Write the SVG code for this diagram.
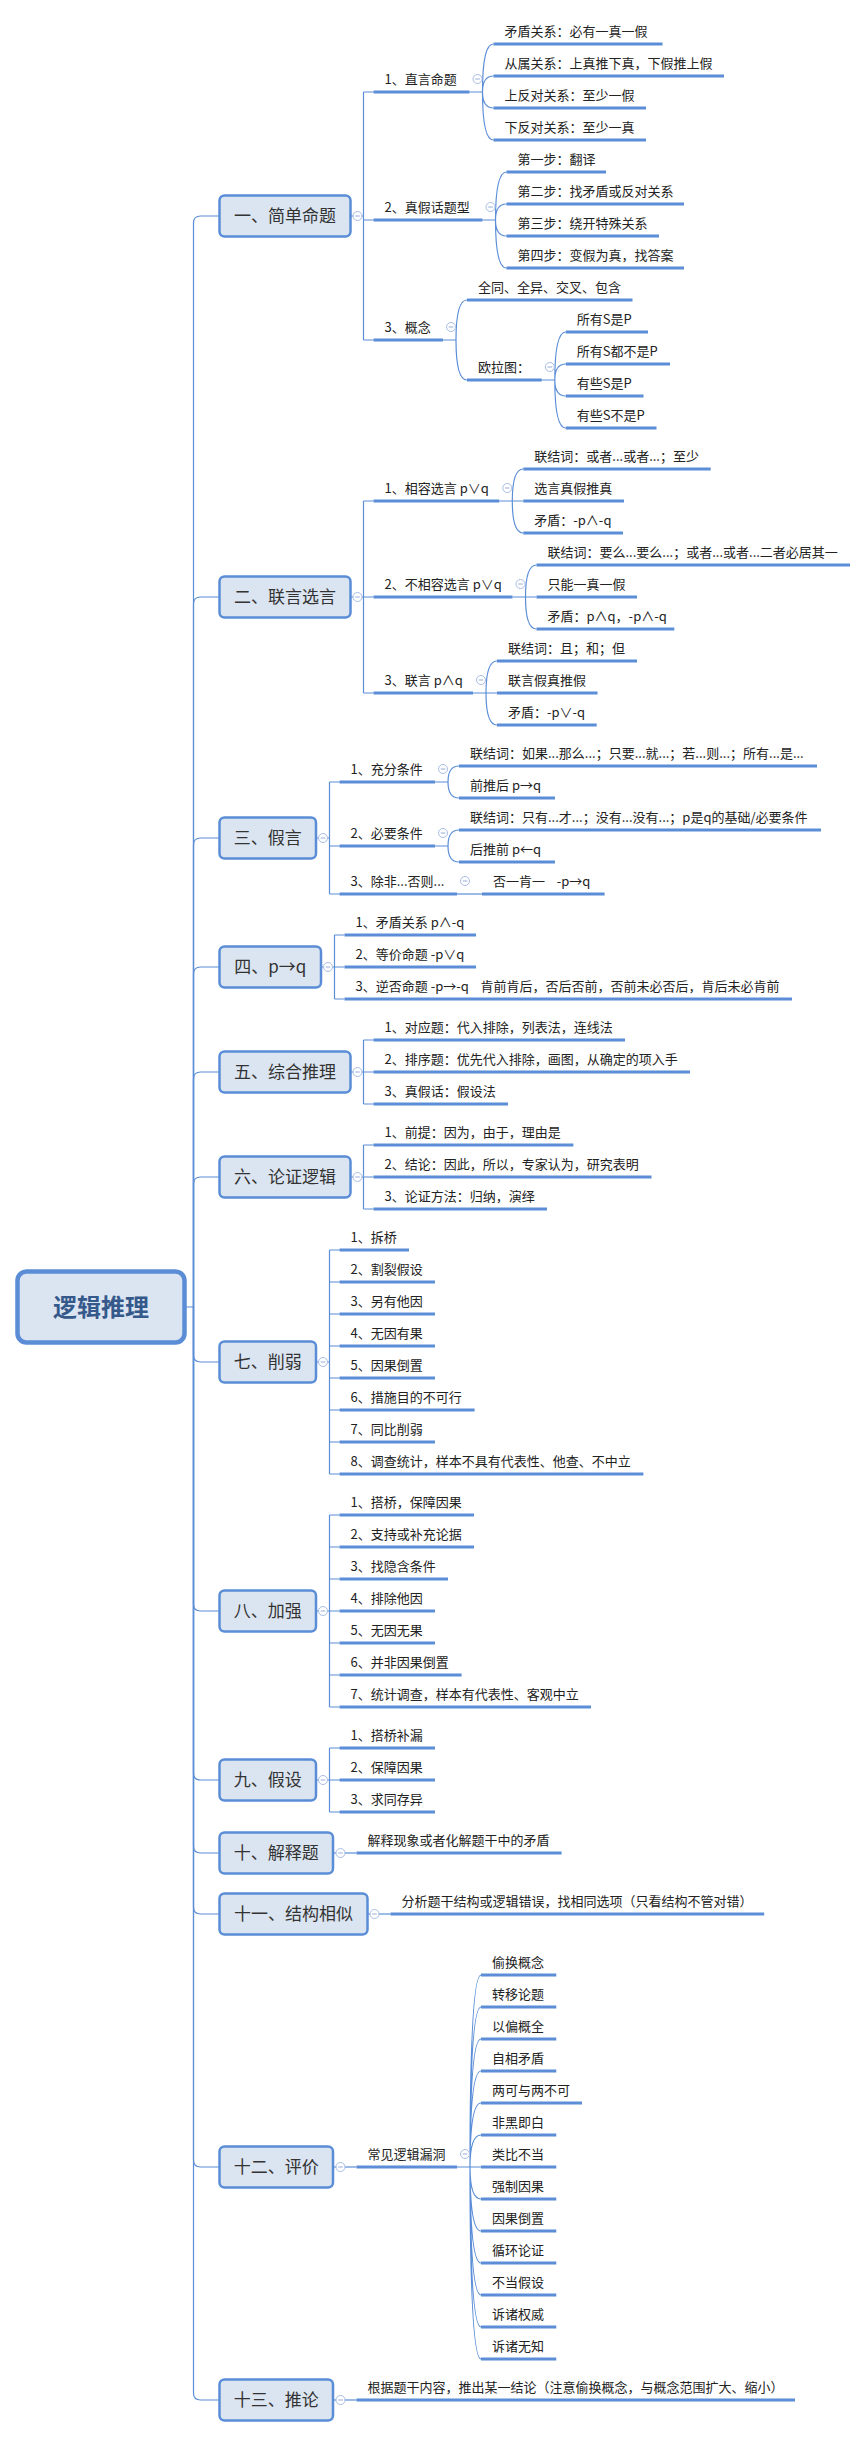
<svg xmlns="http://www.w3.org/2000/svg" xmlns:xlink="http://www.w3.org/1999/xlink" width="868" height="2437" viewBox="0 0 868 2437">
<style>
.b{fill:#dbe5f1;stroke:#5a8dd6;stroke-width:2.5}
.r{fill:#dbe5f1;stroke:#5a8dd6;stroke-width:4.5}
.rt{font-family:"Noto Sans CJK SC",sans-serif;font-size:24px;font-weight:bold;fill:#36598c;text-anchor:middle}
.h{font-family:"Noto Sans CJK SC",sans-serif;font-size:17px;fill:#333;text-anchor:middle}
.t{font-family:"Noto Sans CJK SC",sans-serif;font-size:13px;fill:#222;white-space:pre}
.u{stroke:#5b8ed7;stroke-width:3;fill:none}
.k{stroke:#5b8ed7;stroke-width:1.2;fill:none}
</style>
<defs>
<g id="cm"><circle r="4.5" fill="#fff" stroke="#a8bde4" stroke-width="1"/><path d="M-2.3 0H2.3" stroke="#98aedb" stroke-width="1"/></g>
</defs>
<rect width="868" height="2437" fill="#fff"/>
<g id="connectors">
<!-- trunk -->
<path class="k" d="M185 1307H193.5V223Q193.5 216 200.5 216H219.5"/>
<path class="k" d="M193.5 1307V604Q193.5 597 200.5 597H219.5"/>
<path class="k" d="M193.5 1307V845Q193.5 838 200.5 838H219.5"/>
<path class="k" d="M193.5 1307V974Q193.5 967 200.5 967H219.5"/>
<path class="k" d="M193.5 1307V1079Q193.5 1072 200.5 1072H219.5"/>
<path class="k" d="M193.5 1307V1184Q193.5 1177 200.5 1177H219.5"/>
<path class="k" d="M193.5 1307V1355Q193.5 1362 200.5 1362H219.5"/>
<path class="k" d="M193.5 1307V1604Q193.5 1611 200.5 1611H219.5"/>
<path class="k" d="M193.5 1307V1773Q193.5 1780 200.5 1780H219.5"/>
<path class="k" d="M193.5 1307V1846Q193.5 1853 200.5 1853H219.5"/>
<path class="k" d="M193.5 1307V1907Q193.5 1914 200.5 1914H219.5"/>
<path class="k" d="M193.5 1307V2160Q193.5 2167 200.5 2167H219.5"/>
<path class="k" d="M193.5 1307V2393Q193.5 2400 200.5 2400H219.5"/>
<!-- level 2 elbows -->
<path class="k" d="M350.5 216H363.5M363.5 92V340M363.5 92H373.5M363.5 220H373.5M363.5 340H373.5"/>
<path class="k" d="M350.5 597H363.5M363.5 501V693M363.5 501H373.5M363.5 597H373.5M363.5 693H373.5"/>
<path class="k" d="M316 838H329.5M329.5 782V894M329.5 782H339.5M329.5 846H339.5M329.5 894H339.5"/>
<path class="k" d="M321 967H334.5M334.5 935V999M334.5 935H344.5M334.5 967H344.5M334.5 999H344.5"/>
<path class="k" d="M350.5 1072H363.5M363.5 1040V1104M363.5 1040H373.5M363.5 1072H373.5M363.5 1104H373.5"/>
<path class="k" d="M350.5 1177H363.5M363.5 1145V1209M363.5 1145H373.5M363.5 1177H373.5M363.5 1209H373.5"/>
<path class="k" d="M316 1362H329.5M329.5 1250V1474M329.5 1250H339.5M329.5 1282H339.5M329.5 1314H339.5M329.5 1346H339.5M329.5 1378H339.5M329.5 1410H339.5M329.5 1442H339.5M329.5 1474H339.5"/>
<path class="k" d="M316 1611H329.5M329.5 1515V1707M329.5 1515H339.5M329.5 1547H339.5M329.5 1579H339.5M329.5 1611H339.5M329.5 1643H339.5M329.5 1675H339.5M329.5 1707H339.5"/>
<path class="k" d="M316 1780H329.5M329.5 1748V1812M329.5 1748H339.5M329.5 1780H339.5M329.5 1812H339.5"/>
<path class="k" d="M333 1853H356.5"/>
<path class="k" d="M367.5 1914H390.5"/>
<path class="k" d="M333 2167H356.5"/>
<path class="k" d="M333 2400H356.5"/>
<!-- level 3 curves -->
<path class="k" d="M469.5 92H482.5M482.5 92Q482.5 44 493.5 44M482.5 92Q482.5 76 493.5 76M482.5 92Q482.5 108 493.5 108M482.5 92Q482.5 140 493.5 140"/>
<path class="k" d="M482.5 220H495.5M495.5 220Q495.5 172 506.5 172M495.5 220Q495.5 204 506.5 204M495.5 220Q495.5 236 506.5 236M495.5 220Q495.5 268 506.5 268"/>
<path class="k" d="M443 340H456M456 340Q456 300 467 300M456 340Q456 380 467 380"/>
<path class="k" d="M541.8 380H554.8M554.8 380Q554.8 332 565.8 332M554.8 380Q554.8 364 565.8 364M554.8 380Q554.8 396 565.8 396M554.8 380Q554.8 428 565.8 428"/>
<path class="k" d="M499.3 501H512.3M512.3 501Q512.3 469 523.3 469M512.3 501H523.3M512.3 501Q512.3 533 523.3 533"/>
<path class="k" d="M512.5 597H525.5M525.5 597Q525.5 565 536.5 565M525.5 597H536.5M525.5 597Q525.5 629 536.5 629"/>
<path class="k" d="M473 693H486M486 693Q486 661 497 661M486 693H497M486 693Q486 725 497 725"/>
<path class="k" d="M435 782H448M448 782Q448 766 459 766M448 782Q448 798 459 798"/>
<path class="k" d="M435 846H448M448 846Q448 830 459 830M448 846Q448 862 459 862"/>
<path class="k" d="M457 894H482"/>
<path class="k" d="M457 2167H470M470 2167Q470 1975 481 1975M470 2167Q470 2007 481 2007M470 2167Q470 2039 481 2039M470 2167Q470 2071 481 2071M470 2167Q470 2103 481 2103M470 2167Q470 2135 481 2135M470 2167H481M470 2167Q470 2199 481 2199M470 2167Q470 2231 481 2231M470 2167Q470 2263 481 2263M470 2167Q470 2295 481 2295M470 2167Q470 2327 481 2327M470 2167Q470 2359 481 2359"/>
</g>

<g id="root"><rect class="r" x="17.5" y="1271.5" width="167" height="71" rx="9"/><text class="rt" x="101" y="1316">逻辑推理</text></g>

<g id="n1"><rect class="b" x="219.5" y="195.5" width="131" height="41" rx="5"/><text class="h" x="285" y="222">一、简单命题</text><use xlink:href="#cm" x="357.5" y="216"/></g>
<g id="n1-1"><path class="u" d="M373.5 92H469.5"/><text class="t" x="384.5" y="83.5">1、直言命题</text><use xlink:href="#cm" x="477.5" y="79"/></g>
<g id="n1-1-1"><path class="u" d="M493.5 44H662.5"/><text class="t" x="504.5" y="35.5">矛盾关系：必有一真一假</text></g>
<g id="n1-1-2"><path class="u" d="M493.5 76H724"/><text class="t" x="504.5" y="67.5">从属关系：上真推下真，下假推上假</text></g>
<g id="n1-1-3"><path class="u" d="M493.5 108H646"/><text class="t" x="504.5" y="99.5">上反对关系：至少一假</text></g>
<g id="n1-1-4"><path class="u" d="M493.5 140H646"/><text class="t" x="504.5" y="131.5">下反对关系：至少一真</text></g>
<g id="n1-2"><path class="u" d="M373.5 220H482.5"/><text class="t" x="384.5" y="211.5">2、真假话题型</text><use xlink:href="#cm" x="490.5" y="207"/></g>
<g id="n1-2-1"><path class="u" d="M506.5 172H606"/><text class="t" x="517.5" y="163.5">第一步：翻译</text></g>
<g id="n1-2-2"><path class="u" d="M506.5 204H684"/><text class="t" x="517.5" y="195.5">第二步：找矛盾或反对关系</text></g>
<g id="n1-2-3"><path class="u" d="M506.5 236H659"/><text class="t" x="517.5" y="227.5">第三步：绕开特殊关系</text></g>
<g id="n1-2-4"><path class="u" d="M506.5 268H684"/><text class="t" x="517.5" y="259.5">第四步：变假为真，找答案</text></g>
<g id="n1-3"><path class="u" d="M373.5 340H443"/><text class="t" x="384.5" y="331.5">3、概念</text><use xlink:href="#cm" x="451" y="327"/></g>
<g id="n1-3-1"><path class="u" d="M467 300H632.5"/><text class="t" x="478" y="291.5">全同、全异、交叉、包含</text></g>
<g id="n1-3-2"><path class="u" d="M467 380H541.8"/><text class="t" x="478" y="371.5">欧拉图：</text><use xlink:href="#cm" x="549.8" y="367"/></g>
<g id="n1-3-2-1"><path class="u" d="M565.8 332H648"/><text class="t" x="576.8" y="323.5">所有S是P</text></g>
<g id="n1-3-2-2"><path class="u" d="M565.8 364H670"/><text class="t" x="576.8" y="355.5">所有S都不是P</text></g>
<g id="n1-3-2-3"><path class="u" d="M565.8 396H643.5"/><text class="t" x="576.8" y="387.5">有些S是P</text></g>
<g id="n1-3-2-4"><path class="u" d="M565.8 428H656.5"/><text class="t" x="576.8" y="419.5">有些S不是P</text></g>

<g id="n2"><rect class="b" x="219.5" y="576.5" width="131" height="41" rx="5"/><text class="h" x="285" y="603">二、联言选言</text><use xlink:href="#cm" x="357.5" y="597"/></g>
<g id="n2-1"><path class="u" d="M373.5 501H499.3"/><text class="t" x="384.5" y="492.5">1、相容选言 p∨q</text><use xlink:href="#cm" x="507.3" y="488"/></g>
<g id="n2-1-1"><path class="u" d="M523.3 469H710.7"/><text class="t" x="534.3" y="460.5">联结词：或者...或者...；至少</text></g>
<g id="n2-1-2"><path class="u" d="M523.3 501H624"/><text class="t" x="534.3" y="492.5">选言真假推真</text></g>
<g id="n2-1-3"><path class="u" d="M523.3 533H623"/><text class="t" x="534.3" y="524.5">矛盾：-p∧-q</text></g>
<g id="n2-2"><path class="u" d="M373.5 597H512.5"/><text class="t" x="384.5" y="588.5">2、不相容选言 p∨q</text><use xlink:href="#cm" x="520.5" y="584"/></g>
<g id="n2-2-1"><path class="u" d="M536.5 565H850"/><text class="t" x="547.5" y="556.5">联结词：要么...要么...；或者...或者...二者必居其一</text></g>
<g id="n2-2-2"><path class="u" d="M536.5 597H637"/><text class="t" x="547.5" y="588.5">只能一真一假</text></g>
<g id="n2-2-3"><path class="u" d="M536.5 629H674.3"/><text class="t" x="547.5" y="620.5">矛盾：p∧q，-p∧-q</text></g>
<g id="n2-3"><path class="u" d="M373.5 693H473"/><text class="t" x="384.5" y="684.5">3、联言 p∧q</text><use xlink:href="#cm" x="481" y="680"/></g>
<g id="n2-3-1"><path class="u" d="M497 661H637"/><text class="t" x="508" y="652.5">联结词：且；和；但</text></g>
<g id="n2-3-2"><path class="u" d="M497 693H597.5"/><text class="t" x="508" y="684.5">联言假真推假</text></g>
<g id="n2-3-3"><path class="u" d="M497 725H596.7"/><text class="t" x="508" y="716.5">矛盾：-p∨-q</text></g>

<g id="n3"><rect class="b" x="219.5" y="817.5" width="96.5" height="41" rx="5"/><text class="h" x="267.7" y="844">三、假言</text><use xlink:href="#cm" x="323" y="838"/></g>
<g id="n3-1"><path class="u" d="M339.5 782H435"/><text class="t" x="350.5" y="773.5">1、充分条件</text><use xlink:href="#cm" x="443" y="769"/></g>
<g id="n3-1-1"><path class="u" d="M459 766H817"/><text class="t" x="470" y="757.5">联结词：如果...那么...；只要...就...；若...则...；所有...是...</text></g>
<g id="n3-1-2"><path class="u" d="M459 798H555"/><text class="t" x="470" y="789.5">前推后 p→q</text></g>
<g id="n3-2"><path class="u" d="M339.5 846H435"/><text class="t" x="350.5" y="837.5">2、必要条件</text><use xlink:href="#cm" x="443" y="833"/></g>
<g id="n3-2-1"><path class="u" d="M459 830H821"/><text class="t" x="470" y="821.5">联结词：只有...才...；没有...没有...；p是q的基础/必要条件</text></g>
<g id="n3-2-2"><path class="u" d="M459 862H555"/><text class="t" x="470" y="853.5">后推前 p←q</text></g>
<g id="n3-3"><path class="u" d="M339.5 894H457"/><text class="t" x="350.5" y="885.5">3、除非...否则...</text><use xlink:href="#cm" x="465" y="881"/></g>
<g id="n3-3-1"><path class="u" d="M482 894H604.6"/><text class="t" x="493" y="885.5">否一肯一    -p→q</text></g>

<g id="n4"><rect class="b" x="219.5" y="946.5" width="101.5" height="41" rx="5"/><text class="h" x="270.2" y="973">四、p→q</text><use xlink:href="#cm" x="328" y="967"/></g>
<g id="n4-1"><path class="u" d="M344.5 935H476"/><text class="t" x="355.5" y="926.5">1、矛盾关系 p∧-q</text></g>
<g id="n4-2"><path class="u" d="M344.5 967H476"/><text class="t" x="355.5" y="958.5">2、等价命题 -p∨q</text></g>
<g id="n4-3"><path class="u" d="M344.5 999H792"/><text class="t" x="355.5" y="990.5">3、逆否命题 -p→-q    肯前肯后，否后否前，否前未必否后，肯后未必肯前</text></g>

<g id="n5"><rect class="b" x="219.5" y="1051.5" width="131" height="41" rx="5"/><text class="h" x="285" y="1078">五、综合推理</text><use xlink:href="#cm" x="357.5" y="1072"/></g>
<g id="n5-1"><path class="u" d="M373.5 1040H625"/><text class="t" x="384.5" y="1031.5">1、对应题：代入排除，列表法，连线法</text></g>
<g id="n5-2"><path class="u" d="M373.5 1072H690"/><text class="t" x="384.5" y="1063.5">2、排序题：优先代入排除，画图，从确定的项入手</text></g>
<g id="n5-3"><path class="u" d="M373.5 1104H508"/><text class="t" x="384.5" y="1095.5">3、真假话：假设法</text></g>

<g id="n6"><rect class="b" x="219.5" y="1156.5" width="131" height="41" rx="5"/><text class="h" x="285" y="1183">六、论证逻辑</text><use xlink:href="#cm" x="357.5" y="1177"/></g>
<g id="n6-1"><path class="u" d="M373.5 1145H573.4"/><text class="t" x="384.5" y="1136.5">1、前提：因为，由于，理由是</text></g>
<g id="n6-2"><path class="u" d="M373.5 1177H651.5"/><text class="t" x="384.5" y="1168.5">2、结论：因此，所以，专家认为，研究表明</text></g>
<g id="n6-3"><path class="u" d="M373.5 1209H547"/><text class="t" x="384.5" y="1200.5">3、论证方法：归纳，演绎</text></g>

<g id="n7"><rect class="b" x="219.5" y="1341.5" width="96.5" height="41" rx="5"/><text class="h" x="267.7" y="1368">七、削弱</text><use xlink:href="#cm" x="323" y="1362"/></g>
<g id="n7-1"><path class="u" d="M339.5 1250H409"/><text class="t" x="350.5" y="1241.5">1、拆桥</text></g>
<g id="n7-2"><path class="u" d="M339.5 1282H435"/><text class="t" x="350.5" y="1273.5">2、割裂假设</text></g>
<g id="n7-3"><path class="u" d="M339.5 1314H435"/><text class="t" x="350.5" y="1305.5">3、另有他因</text></g>
<g id="n7-4"><path class="u" d="M339.5 1346H435"/><text class="t" x="350.5" y="1337.5">4、无因有果</text></g>
<g id="n7-5"><path class="u" d="M339.5 1378H435"/><text class="t" x="350.5" y="1369.5">5、因果倒置</text></g>
<g id="n7-6"><path class="u" d="M339.5 1410H474.6"/><text class="t" x="350.5" y="1401.5">6、措施目的不可行</text></g>
<g id="n7-7"><path class="u" d="M339.5 1442H435"/><text class="t" x="350.5" y="1433.5">7、同比削弱</text></g>
<g id="n7-8"><path class="u" d="M339.5 1474H643.4"/><text class="t" x="350.5" y="1465.5">8、调查统计，样本不具有代表性、他查、不中立</text></g>

<g id="n8"><rect class="b" x="219.5" y="1590.5" width="96.5" height="41" rx="5"/><text class="h" x="267.7" y="1617">八、加强</text><use xlink:href="#cm" x="323" y="1611"/></g>
<g id="n8-1"><path class="u" d="M339.5 1515H474"/><text class="t" x="350.5" y="1506.5">1、搭桥，保障因果</text></g>
<g id="n8-2"><path class="u" d="M339.5 1547H474"/><text class="t" x="350.5" y="1538.5">2、支持或补充论据</text></g>
<g id="n8-3"><path class="u" d="M339.5 1579H448"/><text class="t" x="350.5" y="1570.5">3、找隐含条件</text></g>
<g id="n8-4"><path class="u" d="M339.5 1611H435"/><text class="t" x="350.5" y="1602.5">4、排除他因</text></g>
<g id="n8-5"><path class="u" d="M339.5 1643H435"/><text class="t" x="350.5" y="1634.5">5、无因无果</text></g>
<g id="n8-6"><path class="u" d="M339.5 1675H461.6"/><text class="t" x="350.5" y="1666.5">6、并非因果倒置</text></g>
<g id="n8-7"><path class="u" d="M339.5 1707H591"/><text class="t" x="350.5" y="1698.5">7、统计调查，样本有代表性、客观中立</text></g>

<g id="n9"><rect class="b" x="219.5" y="1759.5" width="96.5" height="41" rx="5"/><text class="h" x="267.7" y="1786">九、假设</text><use xlink:href="#cm" x="323" y="1780"/></g>
<g id="n9-1"><path class="u" d="M339.5 1748H435"/><text class="t" x="350.5" y="1739.5">1、搭桥补漏</text></g>
<g id="n9-2"><path class="u" d="M339.5 1780H435"/><text class="t" x="350.5" y="1771.5">2、保障因果</text></g>
<g id="n9-3"><path class="u" d="M339.5 1812H435"/><text class="t" x="350.5" y="1803.5">3、求同存异</text></g>

<g id="n10"><rect class="b" x="219.5" y="1832.5" width="113.5" height="41" rx="5"/><text class="h" x="276.2" y="1859">十、解释题</text><use xlink:href="#cm" x="340.5" y="1853"/></g>
<g id="n10-1"><path class="u" d="M356.5 1853H561.6"/><text class="t" x="367.5" y="1844.5">解释现象或者化解题干中的矛盾</text></g>

<g id="n11"><rect class="b" x="219.5" y="1893.5" width="148" height="41" rx="5"/><text class="h" x="293.5" y="1920">十一、结构相似</text><use xlink:href="#cm" x="374.5" y="1914"/></g>
<g id="n11-1"><path class="u" d="M390.5 1914H764.2"/><text class="t" x="401.5" y="1905.5">分析题干结构或逻辑错误，找相同选项（只看结构不管对错）</text></g>

<g id="n12"><rect class="b" x="219.5" y="2146.5" width="113.5" height="41" rx="5"/><text class="h" x="276.2" y="2173">十二、评价</text><use xlink:href="#cm" x="340.5" y="2167"/></g>
<g id="n12-1"><path class="u" d="M356.5 2167H457"/><text class="t" x="367.5" y="2158.5">常见逻辑漏洞</text><use xlink:href="#cm" x="465" y="2154"/></g>
<g id="n12-1-1"><path class="u" d="M481 1975H556.3"/><text class="t" x="492" y="1966.5">偷换概念</text></g>
<g id="n12-1-2"><path class="u" d="M481 2007H556.3"/><text class="t" x="492" y="1998.5">转移论题</text></g>
<g id="n12-1-3"><path class="u" d="M481 2039H556.3"/><text class="t" x="492" y="2030.5">以偏概全</text></g>
<g id="n12-1-4"><path class="u" d="M481 2071H556.3"/><text class="t" x="492" y="2062.5">自相矛盾</text></g>
<g id="n12-1-5"><path class="u" d="M481 2103H582"/><text class="t" x="492" y="2094.5">两可与两不可</text></g>
<g id="n12-1-6"><path class="u" d="M481 2135H556.3"/><text class="t" x="492" y="2126.5">非黑即白</text></g>
<g id="n12-1-7"><path class="u" d="M481 2167H556.3"/><text class="t" x="492" y="2158.5">类比不当</text></g>
<g id="n12-1-8"><path class="u" d="M481 2199H556.3"/><text class="t" x="492" y="2190.5">强制因果</text></g>
<g id="n12-1-9"><path class="u" d="M481 2231H556.3"/><text class="t" x="492" y="2222.5">因果倒置</text></g>
<g id="n12-1-10"><path class="u" d="M481 2263H556.3"/><text class="t" x="492" y="2254.5">循环论证</text></g>
<g id="n12-1-11"><path class="u" d="M481 2295H556.3"/><text class="t" x="492" y="2286.5">不当假设</text></g>
<g id="n12-1-12"><path class="u" d="M481 2327H556.3"/><text class="t" x="492" y="2318.5">诉诸权威</text></g>
<g id="n12-1-13"><path class="u" d="M481 2359H556.3"/><text class="t" x="492" y="2350.5">诉诸无知</text></g>

<g id="n13"><rect class="b" x="219.5" y="2379.5" width="113.5" height="41" rx="5"/><text class="h" x="276.2" y="2406">十三、推论</text><use xlink:href="#cm" x="340.5" y="2400"/></g>
<g id="n13-1"><path class="u" d="M356.5 2400H795"/><text class="t" x="367.5" y="2391.5">根据题干内容，推出某一结论（注意偷换概念，与概念范围扩大、缩小）</text></g>
</svg>
